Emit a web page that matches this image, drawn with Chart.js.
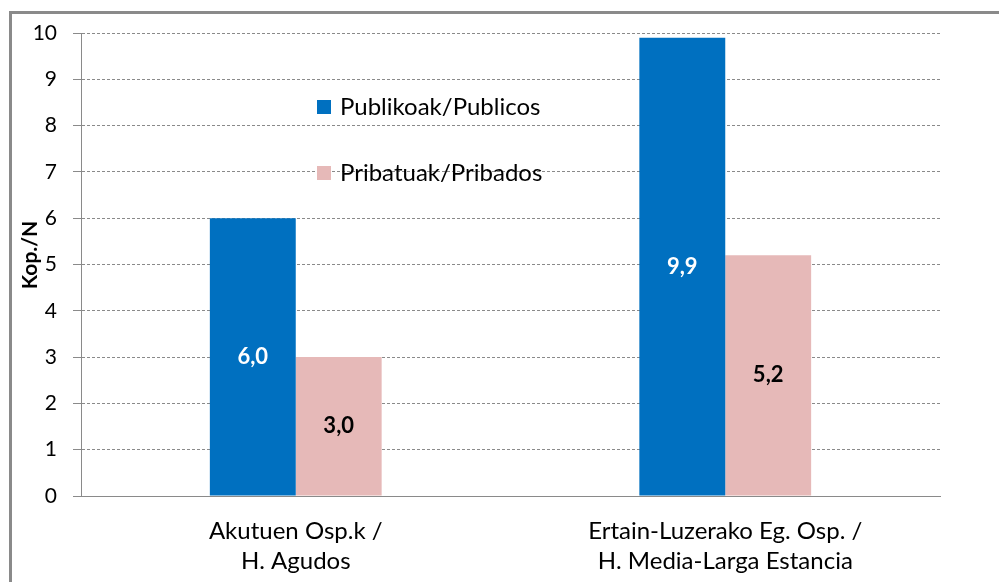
<!DOCTYPE html>
<html>
<head>
<meta charset="utf-8">
<script src="https://cdn.jsdelivr.net/npm/chart.js@4"></script>
<style>
  html, body { margin: 0; padding: 0; background: #fff; overflow: hidden; }
  #frame { position: absolute; left: 9px; top: 11px; width: 1000px; height: 600px;
           border-left: 3px solid #8a8a8a; border-top: 3px solid #8a8a8a; }
  #wrap { position: absolute; left: 0; top: 0; width: 999px; height: 582px; }
</style>
</head>
<body>
<div id="frame"></div>
<div id="wrap"><canvas id="chart"></canvas></div>
<script>
// Data
const categories = [['Akutuen Osp.k /', 'H. Agudos'], ['Ertain-Luzerako Eg. Osp. /', 'H. Media-Larga Estancia']];
const seriesNames = ['Publikoak/Publicos', 'Pribatuak/Pribados'];
const publicValues = [6.0, 9.9];
const privateValues = [3.0, 5.2];
const yMin = 0;
const yMax = 10;
const yStep = 1;
const yTitle = 'Kop./N';

const FONT = 'Lato, "Liberation Sans", sans-serif';
const GRID = '#8a8a8a';

// Value labels in the middle of each bar
const barLabels = {
    id: 'barLabels',
    afterDatasetsDraw(chart) {
        const ctx = chart.ctx;
        ctx.save();
        ctx.font = 'bold 22px ' + FONT;
        ctx.textAlign = 'center';
        ctx.textBaseline = 'middle';
        chart.data.datasets.forEach((ds, i) => {
            chart.getDatasetMeta(i).data.forEach((bar, j) => {
                ctx.fillStyle = i === 0 ? '#ffffff' : '#000000';
                const text = ds.data[j].toFixed(1).replace('.', ',');
                ctx.fillText(text, bar.x, (bar.y + bar.base) / 2);
            });
        });
        ctx.restore();
    }
};

// Legend stacked inside the plot, and the y title
const extras = {
    id: 'extras',
    afterDraw(chart) {
        const ctx = chart.ctx;
        ctx.save();
        ctx.font = '24px ' + FONT;
        ctx.textBaseline = 'middle';
        ctx.textAlign = 'left';
        chart.data.datasets.forEach((ds, i) => {
            const y = 107 + i * 66;
            ctx.fillStyle = ds.backgroundColor;
            ctx.fillRect(317, y - 7, 14, 14);
            ctx.fillStyle = '#000';
            ctx.fillText(ds.label, 340, y);
        });

        ctx.translate(30, 255);
        ctx.rotate(-Math.PI / 2);
        ctx.font = 'bold 21px ' + FONT;
        ctx.textAlign = 'center';
        ctx.fillText(yTitle, 0, 0);
        ctx.restore();
    }
};

const ctx = document.getElementById('chart').getContext('2d');
const chart = new Chart(ctx, {
    type: 'bar',
    data: {
        labels: categories,
        datasets: [{
            label: seriesNames[0],
            data: publicValues,
            backgroundColor: '#0070C0',
            borderWidth: 0
        }, {
            label: seriesNames[1],
            data: privateValues,
            backgroundColor: '#E6B9B8',
            borderWidth: 0
        }]
    },
    options: {
        responsive: true,
        maintainAspectRatio: false,
        animation: false,
        categoryPercentage: 0.4,
        barPercentage: 1.0,
        layout: {
            padding: { top: 33, right: 59, left: 0, bottom: 0 }
        },
        plugins: {
            legend: { display: false },
            tooltip: { enabled: false }
        },
        scales: {
            y: {
                min: yMin,
                max: yMax,
                ticks: {
                    stepSize: yStep,
                    color: '#000',
                    padding: 16,
                    font: { family: FONT, size: 21 }
                },
                grid: {
                    color: GRID,
                    tickLength: 8,
                    tickColor: GRID,
                    tickBorderDash: []
                },
                border: {
                    display: true,
                    color: GRID,
                    dash: [3, 2]
                },
                afterFit(scale) {
                    scale.width = 81;
                }
            },
            x: {
                grid: { display: false, drawTicks: false },
                border: { display: true, color: GRID },
                ticks: {
                    color: '#000',
                    padding: 20,
                    maxRotation: 0,
                    font: { family: FONT, size: 24, lineHeight: 1.25 }
                },
                afterFit(scale) {
                    scale.height = 86;
                }
            }
        }
    },
    plugins: [barLabels, extras]
});
</script>
</body>
</html>
